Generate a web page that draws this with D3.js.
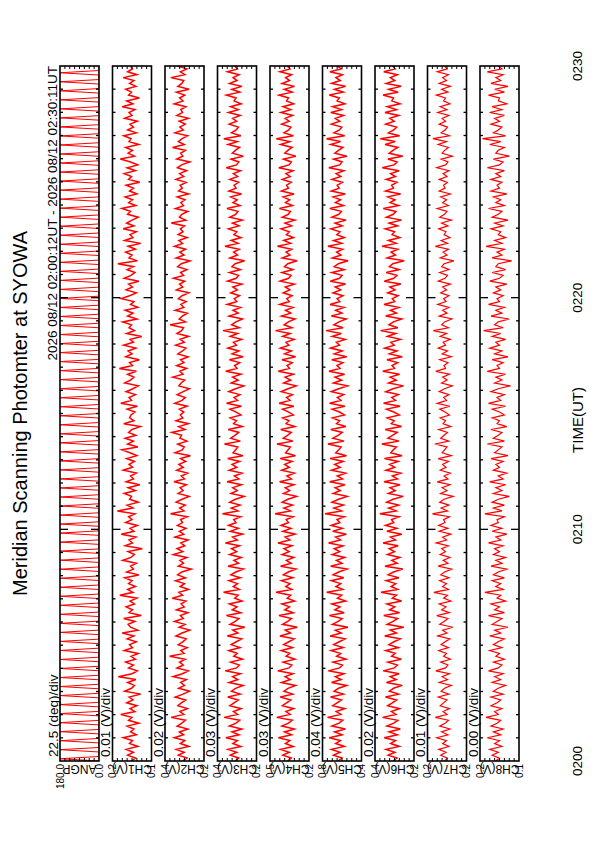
<!DOCTYPE html>
<html>
<head>
<meta charset="utf-8">
<script src="https://cdn.jsdelivr.net/npm/d3@7"></script>
<style>
body { margin: 0; background: #fff; }
text { font-family: "Liberation Sans", Arial, Helvetica, sans-serif; fill: #000; }
</style>
</head>
<body>
<script>
// meridian scanning photometer summary plot (landscape, rotated onto portrait page)

var title = 'Meridian Scanning Photomter at SYOWA';
var subtitle = '2026 08/12 02:00:12UT - 2026 08/12 02:30:11UT';
var time_labels = ['0200', '0210', '0220', '0230'];
var time_ticks = [0, 10, 20, 30];

var channels = ['ANGP', 'CH1(V)', 'CH2(V)', 'CH3(V)', 'CH4(V)', 'CH5(V)', 'CH6(V)', 'CH7(V)', 'CH8(V)'];
var div_labels = ['22.5 (deg)/div', '0.01 (V)/div', '0.02 (V)/div', '0.03 (V)/div', '0.03 (V)/div',
	'0.04 (V)/div', '0.02 (V)/div', '0.01 (V)/div', '0.00 (V)/div'];
var ranges = [[0, 180], [0.10, 0.18], [0.20, 0.36], [0.18, 0.42], [0.24, 0.48],
	[0.44, 0.76], [0.22, 0.38], [0.16, 0.24], [0.125, 0.157]];

// scan angle (deg): quick sweep out and back, then parked at 0
var angp = [0,180,0,0,0,180,0,0,0,180,0,0,0,180,0,0,0,180,0,0,
	0,180,0,0,0,180,0,0,0,180,0,0,0,180,0,0,0,180,0,0,
	0,180,0,0,0,180,0,0,0,180,0,0,0,180,0,0,0,180,0,0,
	0,180,0,0,0,180,0,0,0,180,0,0,0,180,0,0,0,180,0,0,
	0,180,0,0,0,180,0,0,0,180,0,0,0,180,0,0,0,180,0,0,
	0,180,0,0,0,180,0,0,0,180,0,0,0,180,0,0,0,180,0,0,
	0,180,0,0,0,180,0,0,0,180,0,0,0,180,0,0,0,180,0,0,
	0,180,0,0,0,180,0,0,0,180,0,0,0,180,0,0,0,180,0,0,
	0,180,0,0,0,180,0,0,0,180,0,0,0,180,0,0,0,180,0,0,
	0,180,0,0,0,180,0,0,0,180,0,0,0,180,0,0,0,180,0,0,
	0,180,0,0,0,180,0,0,0,180,0,0,0,180,0,0,0,180,0,0,
	0,180,0,0,0,180,0,0,0,180,0,0,0,180,0,0,0,180,0,0,
	0,180,0,0,0,180,0,0,0,180,0,0,0,180,0,0,0,180,0,0,
	0,180,0,0,0,180,0,0,0,180,0,0,0,180,0,0,0,180,0,0,
	0,180,0,0,0,180,0,0,0,180,0,0,0,180,0,0,0,180,0,0,
	0,180,0,0,0,180,0,0,0];

// channel outputs in mV
var ch1_mv = [141,133,149,137,152,128,145,139,158,131,143,136,150,126,147,140,163,134,144,130,
	151,138,146,122,155,141,135,149,132,168,140,129,147,137,153,133,142,127,156,139,
	145,131,150,136,160,128,143,148,134,157,121,146,139,152,135,144,130,165,138,149,
	133,147,140,155,126,151,137,143,131,159,142,135,148,119,154,139,146,132,162,136,
	144,129,153,140,147,134,170,138,150,127,145,141,156,133,148,124,152,137,143,131,
	158,139,146,135,151,130,144,161,128,149,137,154,132,147,140,123,157,136,145,142,
	134,150,129,163,141,146,133,152,138,127,155,143,136,149,131,166,139,145,125,153,
	140,148,132,157,137,144,120,151,135,146,141,159,130,149,138,154,128,143,136,162,
	145,131,152,139,147,126,156,142,134,150,137,169,129,146,140,153,133,148,122,155,
	138,144,131,158,136,151,140,127,149,143,161,132,147,139,154,130,145,137,152,124,
	147,141,156,133,150,128,143,164,135,148,139,153,126,146,142,157,131,149,137,144,
	129,155,140,146,134,160,138,151,125,147,141,153,132,145,136,158,130,149,139,143];
var ch2_mv = [288,270,305,281,314,262,297,279,322,284,301,266,310,291,276,335,283,299,268,307,
	293,275,318,286,259,304,280,296,272,327,289,264,311,285,300,277,341,282,295,269,
	306,287,273,315,290,258,302,278,321,285,297,266,313,281,294,274,330,288,303,263,
	298,280,317,276,308,291,252,305,284,299,270,326,287,311,279,295,265,319,283,301,
	274,309,288,296,268,337,282,300,277,314,290,261,306,286,298,272,323,280,293,267,
	312,285,303,275,296,256,319,289,281,308,270,299,292,332,278,304,264,315,287,297,
	283,301,269,320,290,277,310,285,260,303,294,279,328,286,299,271,312,282,296,265,
	307,288,274,316,281,298,263,311,292,284,339,276,302,289,268,318,283,295,273,305,
	290,262,313,287,300,279,325,284,296,270,308,293,257,314,282,299,275,321,288,303,
	269,306,286,297,280,334,275,301,291,266,317,284,295,278,310,263,304,289,298,273,
	315,283,300,271,309,292,258,312,287,296,276,329,281,305,290,267,319,285,299,277,
	302,264,311,288,295,274,322,286,300,279,313,261,307,291,283,336,278,297,270,308];
var ch3_mv = [312,289,341,301,355,276,325,298,368,287,331,270,347,306,283,379,296,322,274,344,
	318,292,357,280,334,309,262,349,295,327,278,372,303,285,339,266,320,299,351,281,
	336,304,271,359,294,326,252,343,311,288,365,276,329,300,347,268,314,293,383,286,
	323,297,350,279,338,307,260,355,290,319,273,346,302,334,284,371,298,327,265,341,
	291,352,306,320,277,389,294,335,281,345,310,256,337,299,326,272,361,288,316,269,
	348,301,330,284,357,263,324,308,295,377,279,339,312,289,354,267,321,303,342,276,
	305,343,273,364,297,318,282,351,309,258,336,293,327,275,369,300,315,283,347,262,
	330,288,356,303,322,271,342,296,386,285,333,307,266,349,292,325,278,360,301,317,
	284,339,298,326,270,358,305,290,347,279,331,311,253,344,297,321,286,374,293,336,
	275,319,301,352,287,328,267,345,308,294,362,281,325,299,339,272,350,306,318,289,
	344,296,322,278,366,303,289,337,261,329,310,284,355,298,381,276,334,305,291,348,
	302,327,280,353,292,340,274,318,306,365,283,332,269,346,300,324,287,359,297,314];
var ch4_mv = [372,349,401,361,415,336,385,358,428,347,391,330,407,366,343,439,356,382,334,404,
	378,352,417,340,394,369,322,409,355,387,338,432,363,345,399,326,380,359,411,341,
	396,364,331,419,354,386,312,403,371,348,425,336,389,360,407,328,374,353,443,346,
	383,357,410,339,398,367,320,415,350,379,333,406,362,394,344,431,358,387,325,401,
	351,412,366,380,337,449,354,395,341,405,370,316,397,359,386,332,421,348,376,329,
	408,361,390,344,417,323,384,368,355,437,339,399,372,349,414,327,381,363,402,336,
	365,403,333,424,357,378,342,411,369,318,396,353,387,335,429,360,375,343,407,322,
	390,348,416,363,382,331,402,356,446,345,393,367,326,409,352,385,338,420,361,377,
	344,399,358,386,330,418,365,350,407,339,391,371,313,404,357,381,346,434,353,396,
	335,379,361,412,347,388,327,405,368,354,422,341,385,359,399,332,410,366,378,349,
	404,356,382,338,426,363,349,397,321,389,370,344,415,358,441,336,394,365,351,408,
	362,387,340,413,352,400,334,378,366,425,343,392,329,406,360,384,347,419,357,374];
var ch5_mv = [632,601,670,615,688,580,652,613,705,598,661,572,683,624,593,719,609,648,577,676,
	640,604,694,588,665,628,561,686,607,655,584,712,620,596,673,567,644,611,690,590,
	668,622,574,697,606,655,551,679,631,599,703,582,659,617,684,569,637,603,725,594,
	650,610,688,585,673,627,558,693,600,645,578,681,619,664,591,710,612,652,564,676,
	597,689,618,641,581,739,604,667,588,682,629,556,672,614,656,575,701,596,639,570,
	686,615,660,590,697,563,651,626,607,715,583,675,632,598,692,568,645,619,678,580,
	621,681,576,702,609,638,586,688,627,553,670,603,658,579,707,616,641,593,684,561,
	663,597,694,620,646,573,680,606,730,591,667,625,565,687,601,653,583,698,618,640,
	592,674,611,656,571,696,621,599,683,582,664,630,550,679,608,644,594,716,602,669,
	580,642,616,691,598,657,566,683,626,605,700,587,654,611,673,574,688,623,640,596,
	682,609,648,584,708,619,599,669,560,659,628,592,693,612,727,578,666,621,601,687,
	618,655,587,692,603,677,576,640,622,704,590,661,571,685,614,650,596,699,607,636];
var ch6_mv = [306,290,326,298,335,280,316,296,342,288,322,276,331,303,286,349,294,313,279,328,
	309,291,337,283,321,304,268,333,293,318,281,346,301,288,327,272,312,297,336,284,
	323,302,276,340,292,317,262,330,306,287,344,279,320,299,331,271,309,292,355,287,
	314,295,334,282,326,304,266,339,289,311,278,329,300,322,285,347,296,316,270,331,
	290,337,303,312,281,360,293,324,283,332,306,264,325,297,318,277,343,288,309,274,
	335,299,320,285,341,269,315,305,292,352,281,327,308,289,338,271,313,301,330,280,
	303,333,277,345,296,311,284,336,306,263,324,293,318,279,348,300,310,287,331,268,
	321,290,340,301,315,275,329,295,357,286,323,304,270,336,292,317,282,343,299,309,
	285,328,298,319,274,342,303,290,334,281,321,307,260,330,296,314,286,351,293,325,
	278,310,300,338,287,322,271,333,305,294,346,283,318,298,328,275,337,304,312,290,
	334,296,316,281,350,302,289,327,266,322,306,286,339,297,358,279,325,303,291,336,
	301,319,282,339,292,330,277,311,304,347,285,324,273,334,299,317,288,344,297,308];
var ch7_mv = [205,199,213,202,217,196,209,201,221,198,211,194,215,204,197,224,200,208,195,214,
	207,200,218,196,212,205,191,216,199,210,195,223,203,198,213,193,207,201,217,197,
	212,204,194,219,200,209,188,215,206,198,221,195,211,202,216,192,207,199,227,197,
	209,201,215,196,213,205,190,218,198,208,194,214,203,211,197,222,201,209,192,216,
	198,217,204,207,195,230,199,212,196,215,206,187,213,200,210,194,220,198,206,193,
	214,202,209,197,218,191,210,205,200,225,196,213,206,199,217,192,208,203,214,195,
	204,215,194,220,201,207,196,216,205,189,211,200,209,195,223,203,206,198,215,191,
	210,199,218,203,208,193,214,201,228,197,211,205,190,216,200,209,196,219,202,207,
	196,213,201,209,193,218,204,199,215,196,211,206,186,214,200,208,197,224,199,212,
	194,206,202,217,198,211,191,215,205,200,220,197,209,201,213,193,216,204,207,199,
	216,200,208,196,221,203,198,212,189,210,205,197,218,201,229,195,212,204,199,216,
	203,210,196,219,200,214,194,207,203,222,198,211,193,216,201,209,197,220,200,205];
var ch8_mv = [144,141,147,142,149,139,145,141,151,140,146,138,148,143,140,152,142,145,139,148,
	143,140,148,138,146,142,136,147,140,145,138,150,142,139,146,137,144,141,149,139,
	146,142,137,149,140,145,134,147,143,139,150,137,145,141,148,136,143,140,153,138,
	144,140,147,137,146,142,135,148,139,144,136,146,141,145,138,150,140,144,135,147,
	139,148,142,143,137,153,139,146,137,147,142,133,146,139,144,136,149,138,142,135,
	146,141,144,138,148,134,145,142,139,151,137,146,142,139,148,135,143,141,147,137,
	141,147,136,150,140,143,137,148,142,132,145,139,144,136,151,141,143,138,147,134,
	145,139,149,141,144,136,147,140,154,138,145,142,133,148,139,144,137,150,141,143,
	138,146,140,144,135,149,141,138,147,136,144,142,131,147,139,143,137,152,139,145,
	136,142,140,148,138,145,134,147,142,139,150,137,144,140,146,135,148,141,143,139,
	148,140,144,137,151,141,138,146,133,144,142,137,149,140,155,136,146,142,139,148,
	141,145,137,149,139,147,135,142,141,150,137,145,134,148,140,144,138,151,139,142];

var W = 595, H = 842;
var conf = {
	x0: 81, x1: 776,          // time axis in landscape coords
	top: 60, step: 52.5, h: 39, // panel stack
	font: 13.5
};

var series = [angp, ch1_mv, ch2_mv, ch3_mv, ch4_mv, ch5_mv, ch6_mv, ch7_mv, ch8_mv];

var svg = d3.select('body').append('svg').attr('width', W).attr('height', H);
svg.append('rect').attr('width', W).attr('height', H).attr('fill', '#fff');

// whole plot is drawn landscape then turned onto the page
var g = svg.append('g').attr('transform', 'translate(0,' + H + ') rotate(-90)');

var x_scale = d3.scaleLinear().domain([0, 30]).range([conf.x0, conf.x1]);

g.append('text').text(title)
	.attr('x', (conf.x0 + conf.x1) / 2).attr('y', 27)
	.attr('text-anchor', 'middle').style('font-size', '20px');

g.append('text').text(subtitle)
	.attr('x', conf.x1).attr('y', 57)
	.attr('text-anchor', 'end').style('font-size', conf.font + 'px');

var defs = svg.append('defs');

series.forEach(function (vals, k) {
	var top = conf.top + k * conf.step;
	var rng = ranges[k];
	var lo = rng[0], hi = rng[1];
	var scale = (k == 0) ? 1 : 1000;
	var n = vals.length;

	var y_scale = d3.scaleLinear().domain([lo, hi]).range([top + conf.h, top]);
	var pg = g.append('g').attr('class', 'panel');

	defs.append('clipPath').attr('id', 'clip' + k)
		.append('rect').attr('x', conf.x0).attr('y', top)
		.attr('width', conf.x1 - conf.x0).attr('height', conf.h);

	var line = d3.line()
		.x(function (d, i) {return x_scale(i * 30 / (n - 1));})
		.y(function (d) {return y_scale(d / scale);});

	// last two channels are quieter and drawn a touch thinner
	pg.append('path').datum(vals)
		.attr('d', line)
		.attr('clip-path', 'url(#clip' + k + ')')
		.attr('fill', 'none').attr('stroke', '#ff0000')
		.attr('stroke-width', (k == 0) ? 1 : (k >= 7 ? 1.2 : 1.5));

	// time ticks, both edges, pointing inward
	var mins = d3.range(1, 30);
	mins.forEach(function (m) {
		var len = (m % 10 == 0) ? 8 : 3;
		var xx = x_scale(m);
		pg.append('line').attr('x1', xx).attr('x2', xx)
			.attr('y1', top).attr('y2', top + len)
			.attr('stroke', '#000').attr('stroke-width', 1.3);
		pg.append('line').attr('x1', xx).attr('x2', xx)
			.attr('y1', top + conf.h).attr('y2', top + conf.h - len)
			.attr('stroke', '#000').attr('stroke-width', 1.3);
	});

	// value ticks, 8 divisions
	d3.range(1, 8).forEach(function (j) {
		var yy = top + conf.h * j / 8;
		pg.append('line').attr('x1', conf.x0).attr('x2', conf.x0 + 3)
			.attr('y1', yy).attr('y2', yy).attr('stroke', '#000').attr('stroke-width', 1);
		pg.append('line').attr('x1', conf.x1).attr('x2', conf.x1 - 3)
			.attr('y1', yy).attr('y2', yy).attr('stroke', '#000').attr('stroke-width', 1);
	});

	pg.append('rect').attr('x', conf.x0).attr('y', top)
		.attr('width', conf.x1 - conf.x0).attr('height', conf.h)
		.attr('fill', 'none').attr('stroke', '#000').attr('stroke-width', 1.6);

	// per-division label above the panel
	pg.append('text').text(div_labels[k])
		.attr('x', conf.x0 + 4).attr('y', top - 2.5)
		.style('font-size', conf.font + 'px');

	// axis end labels, centred on the panel edges
	var fmt = d3.format('.1f');
	pg.append('text').text(fmt(hi))
		.attr('x', conf.x0 - 3).attr('y', top + 3.5)
		.attr('text-anchor', 'end').style('font-size', '10px');
	pg.append('text').text(fmt(lo))
		.attr('x', conf.x0 - 3).attr('y', top + conf.h + 3.5)
		.attr('text-anchor', 'end').style('font-size', '10px');
	pg.append('text').text(channels[k])
		.attr('transform', 'translate(' + (conf.x0 - 4) + ',' + (top + conf.h / 2) + ') rotate(-90)')
		.attr('text-anchor', 'middle').style('font-size', '12px');
});

// time axis labels under the last panel
time_ticks.forEach(function (t, i) {
	g.append('text').text(time_labels[i])
		.attr('x', x_scale(t)).attr('y', 582)
		.attr('text-anchor', 'middle').style('font-size', conf.font + 'px');
});
g.append('text').text('TIME(UT)')
	.attr('x', 422).attr('y', 583)
	.attr('text-anchor', 'middle').style('font-size', '15px');
</script>
</body>
</html>
